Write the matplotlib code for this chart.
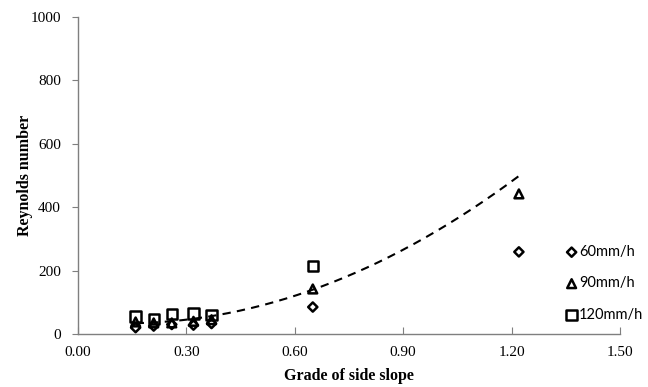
import numpy as np
import matplotlib
matplotlib.use("Agg")
import matplotlib.pyplot as plt

# side slope grade values
slope = [0.16, 0.21, 0.26, 0.32, 0.37, 0.65, 1.22]
slope_120 = [0.16, 0.21, 0.26, 0.32, 0.37, 0.65]

re_60 = [20, 25, 30, 28, 33, 85, 259]
re_90 = [38, 35, 35, 40, 45, 142, 442]
re_120 = [55, 48, 62, 65, 60, 214]

# quadratic trend line coefficients (a*x^2 + b*x + c)
trend_coef = [390, -100, 40]

x_ticks = [0.0, 0.3, 0.6, 0.9, 1.2, 1.5]
y_ticks = [0, 200, 400, 600, 800, 1000]

fig = plt.figure(figsize=(6.48, 3.87), dpi=100)
ax = fig.add_axes([0.120, 0.137, 0.837, 0.819])

serif = "Liberation Serif"

xt = np.linspace(min(slope), max(slope), 200)
ax.plot(xt, np.polyval(trend_coef, xt), color="black", linestyle=(0, (4, 3)),
        linewidth=1.5, zorder=2)

mk = dict(facecolor="none", edgecolor="black", linewidths=1.8, zorder=3)
ax.scatter(slope, re_60, marker="D", s=22, label="60mm/h", **mk)
ax.scatter(slope, re_90, marker="^", s=40, label="90mm/h", **mk)
ax.scatter(slope_120, re_120, marker="s", s=55, label="120mm/h", **mk)

ax.set_xlim(0, 1.5)
ax.set_ylim(0, 1000)
ax.set_xticks(x_ticks)
ax.set_xticklabels([f"{v:.2f}" for v in x_ticks], fontfamily=serif, fontsize=11)
ax.set_yticks(y_ticks)
ax.set_yticklabels([str(v) for v in y_ticks], fontfamily=serif, fontsize=11)

for s in ["top", "right"]:
    ax.spines[s].set_visible(False)
for s in ["left", "bottom"]:
    ax.spines[s].set_color("#7f7f7f")
    ax.spines[s].set_linewidth(1.0)
ax.tick_params(axis="x", direction="in", length=5, color="#7f7f7f", pad=9)
ax.tick_params(axis="y", direction="out", length=4, color="#7f7f7f", pad=8)

ax.set_xlabel("Grade of side slope", fontfamily=serif, fontweight="bold",
              fontsize=11.5)
ax.set_ylabel("Reynolds number", fontfamily=serif, fontweight="bold",
              fontsize=11.5)
ax.xaxis.set_label_coords(0.5, -0.108)
ax.yaxis.set_label_coords(-0.083, 0.5)

fig.legend(loc="upper left", bbox_to_anchor=(0.863, 0.382), frameon=False,
           prop={"family": "Lato", "size": 10.5}, handletextpad=0.05,
           handlelength=0.9, labelspacing=1.2, borderaxespad=0)

plt.savefig("out.png", dpi=100)
